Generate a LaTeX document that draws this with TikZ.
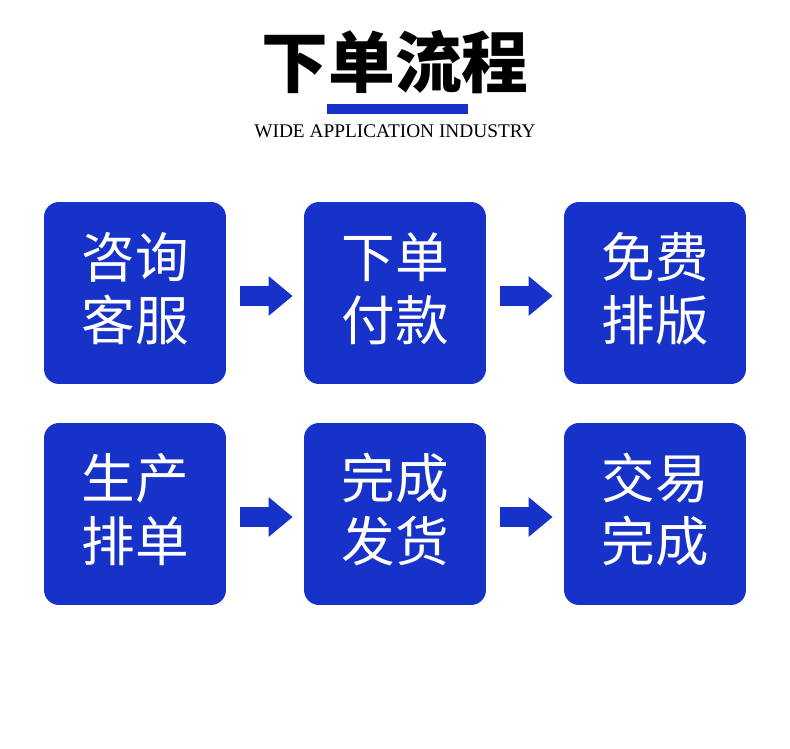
\documentclass[tikz,border=0pt]{standalone}
\usepackage{fontspec}
\setmainfont{Liberation Serif}
\newfontfamily\cjk{Noto Sans CJK SC}
\usetikzlibrary{arrows.meta}
\definecolor{bleu}{RGB}{23,50,200}

\tikzset{
  etape/.style={fill=bleu, rounded corners=0.3cm, minimum width=3.64cm,
    minimum height=3.64cm, inner sep=0pt},
  texte/.style={text=white, align=center, inner sep=0pt,
    font=\cjk\fontsize{30.5}{36}\selectfont},
  fleche/.style={draw=bleu, line width=0.39cm,
    -{Triangle[length=0.48cm, width=0.76cm]},
    shorten <=0.28cm, shorten >=0.22cm}
}

\begin{document}
\begin{tikzpicture}[x=0.02cm, y=-0.02cm]
  \useasboundingbox (0,0) rectangle (790,749);

  % Titre
  \node (titre) at (395,62) {\cjk\bfseries\fontsize{38}{44}\selectfont 下单流程};
  \fill[bleu] (327,104) rectangle (468,114);
  \node (soustitre) at (395,131) {\fontsize{11}{13}\selectfont WIDE APPLICATION INDUSTRY};

  % Etapes
  \foreach \nom/\x/\y/\mots in {
      11/135/293/咨询\\客服, 12/395/293/下单\\付款, 13/655/293/免费\\排版,
      21/135/514/生产\\排单, 22/395/514/完成\\发货, 23/655/514/交易\\完成} {
    \node[etape] (e\nom) at (\x,\y) {};
    \node[texte] (t\nom) at ([yshift=0.09cm]e\nom.center) {\mots};
  }

  % Fleches
  \foreach \r in {1,2} {
    \draw[fleche] ([yshift=-0.06cm]e\r1.east) -- ([yshift=-0.06cm]e\r2.west);
    \draw[fleche] ([yshift=-0.06cm]e\r2.east) -- ([yshift=-0.06cm]e\r3.west);
  }
\end{tikzpicture}
\end{document}
